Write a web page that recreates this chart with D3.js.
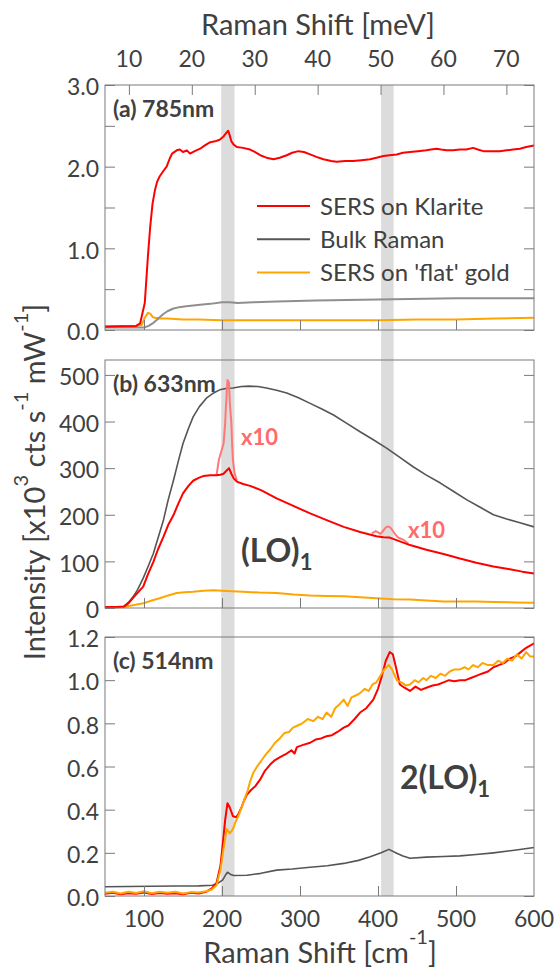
<!DOCTYPE html>
<html>
<head>
<meta charset="utf-8">
<script src="https://cdn.jsdelivr.net/npm/d3@7"></script>
<style>
  body { margin: 0; background: #fff; }
  text { font-family: Lato, "Open Sans", sans-serif; fill: #404040; }
</style>
</head>
<body>
<div id="chart"></div>
<script>
// --- data, x in cm-1 ---
var xTicks = [100, 200, 300, 400, 500, 600],
    meVTicks = [10, 20, 30, 40, 50, 60, 70],
    bands = [[199, 216], [404, 420]];

// (a) 785nm
var redA = [[50,0.04],[70,0.045],[90,0.05],[95,0.08],[101,0.33],[105,0.9],[108,1.27],[111,1.55],[114,1.71],[117,1.82],[120,1.88],[125,1.95],[129,2.0],[133,2.1],[136,2.16],[142,2.2],[146,2.21],[150,2.18],[155,2.2],[159,2.16],[165,2.19],[172,2.22],[178,2.26],[185,2.3],[191,2.31],[197,2.33],[202,2.37],[206,2.42],[208,2.44],[210,2.38],[212,2.31],[215,2.27],[219,2.24],[227,2.23],[236,2.21],[242,2.18],[249,2.14],[257,2.11],[266,2.09],[274,2.11],[283,2.14],[290,2.17],[298,2.19],[305,2.18],[313,2.15],[321,2.12],[330,2.09],[340,2.07],[347,2.06],[358,2.07],[368,2.07],[379,2.08],[390,2.09],[398,2.11],[407,2.13],[415,2.14],[424,2.15],[432,2.17],[441,2.18],[451,2.19],[462,2.2],[468,2.21],[475,2.22],[481,2.21],[488,2.2],[496,2.2],[505,2.21],[513,2.21],[522,2.23],[528,2.21],[535,2.19],[545,2.19],[556,2.19],[565,2.2],[573,2.21],[582,2.22],[590,2.24],[600,2.26]];
var bulkA = [[50,0.03],[80,0.03],[100,0.03],[106,0.05],[111,0.08],[117,0.13],[124,0.19],[130,0.23],[137,0.26],[145,0.28],[154,0.29],[163,0.3],[172,0.31],[185,0.32],[200,0.34],[210,0.34],[220,0.33],[240,0.34],[270,0.35],[320,0.36],[380,0.37],[440,0.38],[500,0.39],[560,0.39],[600,0.39]];
var flatA = [[50,0.05],[70,0.05],[90,0.05],[97,0.06],[101,0.15],[105,0.21],[108,0.2],[111,0.16],[114,0.15],[120,0.14],[130,0.14],[150,0.13],[170,0.13],[200,0.12],[230,0.12],[260,0.12],[300,0.12],[350,0.12],[400,0.12],[450,0.13],[500,0.13],[550,0.14],[600,0.15]];

// (b) 633nm
var redB = [[50,2],[65,2],[74,3],[80,10],[86,22],[92,33],[99,46],[105,72],[112,99],[118,126],[125,153],[131,178],[138,200],[144,224],[150,246],[157,262],[163,273],[170,279],[176,283],[185,285],[193,285],[198,286],[202,288],[206,295],[209,300],[212,288],[215,278],[219,271],[227,266],[236,262],[250,253],[270,235],[290,220],[313,203],[335,188],[356,174],[377,163],[398,154],[407,152],[415,151],[428,143],[441,135],[462,125],[484,116],[505,106],[526,97],[548,89],[569,83],[585,78],[600,74]];
var pink1 = [[193,285],[196,318],[199,335],[202,353],[204,395],[205,430],[207,489],[209,483],[210,440],[212,397],[213,350],[214,318],[216,290],[219,273]];
var pink2 = [[392,160],[395,163],[397,165],[400,162],[403,159],[406,164],[409,171],[412,175],[415,174],[418,168],[420,163],[423,156],[426,151],[430,148],[433,146],[439,138]];
var bulkB = [[50,2],[65,2],[74,3],[80,12],[86,24],[92,40],[99,64],[105,88],[112,117],[118,150],[125,189],[131,232],[138,275],[144,315],[150,353],[157,385],[163,410],[171,432],[180,450],[188,460],[197,468],[205,471],[214,472],[225,475],[235,476],[246,475],[257,472],[270,467],[283,461],[298,451],[313,439],[328,427],[343,414],[360,396],[377,378],[394,361],[411,343],[428,323],[445,303],[462,285],[480,268],[497,250],[514,232],[531,216],[548,200],[565,191],[582,183],[600,174]];
var flatB = [[50,1],[65,1],[74,2],[86,6],[99,10],[110,16],[120,21],[131,27],[142,32],[152,34],[163,35],[176,37],[189,38],[200,37],[213,36],[227,35],[248,33],[270,32],[292,29],[313,27],[335,26],[356,25],[377,23],[398,21],[420,19],[441,18],[462,16],[484,14],[505,14],[526,14],[548,13],[575,12],[600,11]];

// (c) 514nm
var redC = [[50,0.01],[60,0.015],[70,0.008],[80,0.013],[90,0.01],[100,0.016],[110,0.009],[120,0.014],[130,0.01],[140,0.013],[150,0.008],[160,0.015],[170,0.012],[180,0.02],[187,0.035],[193,0.06],[198,0.14],[201,0.24],[204,0.35],[207,0.43],[210,0.41],[214,0.37],[218,0.365],[221,0.38],[225,0.41],[228,0.44],[232,0.47],[237,0.49],[243,0.51],[249,0.54],[255,0.58],[262,0.61],[268,0.63],[275,0.645],[283,0.66],[289,0.675],[293,0.66],[296,0.69],[304,0.7],[313,0.71],[320,0.725],[327,0.73],[334,0.74],[341,0.745],[348,0.76],[356,0.78],[362,0.79],[370,0.82],[377,0.85],[385,0.87],[394,0.91],[400,0.96],[405,1.02],[410,1.09],[415,1.13],[419,1.12],[423,1.06],[428,0.98],[434,0.965],[441,0.95],[448,0.97],[455,0.955],[462,0.965],[470,0.975],[477,0.98],[484,0.99],[491,1.0],[498,0.995],[505,1.0],[512,1.0],[519,1.01],[526,1.02],[533,1.03],[541,1.04],[548,1.06],[555,1.07],[562,1.08],[569,1.1],[576,1.11],[583,1.13],[590,1.15],[595,1.16],[600,1.17]];
var flatC = [[50,0.015],[60,0.02],[70,0.012],[80,0.02],[90,0.014],[100,0.022],[110,0.013],[120,0.02],[130,0.015],[140,0.02],[150,0.012],[160,0.018],[170,0.016],[180,0.022],[187,0.03],[193,0.05],[198,0.12],[202,0.22],[206,0.31],[210,0.29],[214,0.31],[217,0.34],[222,0.38],[227,0.43],[233,0.49],[236,0.53],[240,0.57],[245,0.6],[251,0.63],[257,0.66],[262,0.68],[268,0.71],[274,0.73],[280,0.755],[286,0.76],[291,0.78],[297,0.79],[303,0.8],[310,0.82],[317,0.81],[323,0.83],[329,0.82],[334,0.85],[340,0.83],[345,0.87],[351,0.89],[356,0.91],[361,0.88],[366,0.92],[372,0.93],[377,0.94],[383,0.96],[388,0.95],[393,0.98],[398,0.99],[403,1.02],[408,1.05],[414,1.07],[418,1.05],[424,1.0],[430,0.99],[436,0.975],[441,0.98],[447,1.0],[452,0.99],[458,1.01],[462,1.0],[468,1.02],[474,1.01],[480,1.03],[486,1.02],[492,1.04],[498,1.05],[505,1.05],[511,1.06],[516,1.05],[522,1.07],[528,1.06],[534,1.08],[541,1.07],[548,1.07],[554,1.09],[560,1.08],[566,1.1],[572,1.09],[578,1.12],[584,1.1],[590,1.13],[595,1.11],[600,1.11]];
var bulkC = [[50,0.043],[80,0.044],[110,0.045],[140,0.046],[170,0.047],[188,0.05],[195,0.06],[201,0.075],[205,0.1],[207,0.11],[211,0.1],[215,0.095],[232,0.096],[250,0.105],[270,0.12],[290,0.125],[313,0.133],[335,0.14],[356,0.151],[375,0.165],[390,0.182],[404,0.2],[414,0.216],[424,0.198],[432,0.185],[441,0.175],[462,0.18],[484,0.183],[505,0.186],[526,0.192],[548,0.2],[575,0.212],[600,0.225]];

var width = 554, height = 969;
var x = d3.scaleLinear().domain([50, 600]).range([105, 534]);

var panels = [
  {top: 85, bottom: 330, max: 3.0, ticks: d3.range(0, 3.01, 0.5), labels: [0, 1, 2, 3], fmt: d3.format(".1f"), name: "(a) 785nm",
   series: [{d: flatA, c: "#ffa500", w: 2}, {d: bulkA, c: "#8f8f8f", w: 2}, {d: redA, c: "#ff0000", w: 2}]},
  {top: 360, bottom: 608, max: 532, ticks: d3.range(0, 501, 100), labels: d3.range(0, 501, 100), fmt: d3.format("d"), name: "(b) 633nm",
   series: [{d: flatB, c: "#ffa500", w: 2}, {d: bulkB, c: "#555555", w: 1.6}, {d: pink1, c: "#ff7878", w: 2}, {d: pink2, c: "#ff7878", w: 2}, {d: redB, c: "#ff0000", w: 2}]},
  {top: 637, bottom: 896, max: 1.2, ticks: d3.range(0, 1.21, 0.2), labels: d3.range(0, 1.21, 0.2), fmt: d3.format(".1f"), name: "(c) 514nm",
   series: [{d: bulkC, c: "#555555", w: 1.6}, {d: redC, c: "#ff0000", w: 2}, {d: flatC, c: "#ffa500", w: 2}]}
];

var svg = d3.select("#chart").append("svg")
  .attr("width", width).attr("height", height);

// grey bands behind everything
svg.selectAll("rect.band").data(bands).enter().append("rect")
  .attr("class", "band")
  .attr("x", function(d) { return x(d[0]); })
  .attr("width", function(d) { return x(d[1]) - x(d[0]); })
  .attr("y", 85).attr("height", 896 - 85)
  .attr("fill", "#dcdcdc");

var frameColor = "#7a7a7a";

panels.forEach(function(p) {
  var y = d3.scaleLinear().domain([0, p.max]).range([p.bottom, p.top]);
  var g = svg.append("g");

  var line = d3.line().x(function(d) { return x(d[0]); }).y(function(d) { return y(d[1]); });
  p.series.forEach(function(s) {
    g.append("path").datum(s.d).attr("d", line)
      .attr("fill", "none").attr("stroke", s.c).attr("stroke-width", s.w)
      .attr("stroke-linejoin", "round");
  });

  // frame
  g.append("rect").attr("x", 105).attr("y", p.top).attr("width", 534 - 105).attr("height", p.bottom - p.top)
    .attr("fill", "none").attr("stroke", frameColor).attr("stroke-width", 1);

  // left axis
  var left = g.append("g").attr("transform", "translate(105,0)")
    .call(d3.axisLeft(y).tickValues(p.ticks).tickSize(-10).tickFormat(""));
  left.select(".domain").remove();
  left.selectAll("line").attr("stroke", frameColor);
  g.selectAll("text.yl").data(p.labels).enter().append("text")
    .attr("x", 99).attr("y", function(d) { return y(d) + 2; })
    .attr("dy", "0.36em").attr("text-anchor", "end")
    .style("font-size", "23px")
    .text(p.fmt);

  // right axis
  var right = g.append("g").attr("transform", "translate(534,0)")
    .call(d3.axisRight(y).tickValues(p.ticks).tickSize(-10).tickFormat(""));
  right.select(".domain").remove();
  right.selectAll("line").attr("stroke", frameColor);

  // bottom ticks
  var bot = g.append("g").attr("transform", "translate(0," + p.bottom + ")")
    .call(d3.axisBottom(x).tickValues(xTicks.slice(0, 5)).tickSize(-10).tickFormat(""));
  bot.select(".domain").remove();
  bot.selectAll("line").attr("stroke", frameColor);

  g.append("text").attr("x", 113).attr("y", p.top + 32)
    .style("font-size", "23px").style("font-weight", "bold")
    .text(p.name);
});

// top meV axis
var meV = d3.scaleLinear().domain([50 / 8.0655, 600 / 8.0655]).range([105, 534]);
var topAx = svg.append("g").attr("transform", "translate(0,85)")
  .call(d3.axisTop(meV).tickValues(meVTicks).tickSize(-10).tickFormat(""));
topAx.select(".domain").remove();
topAx.selectAll("line").attr("stroke", frameColor);
svg.selectAll("text.ml").data(meVTicks).enter().append("text")
  .attr("x", function(d) { return meV(d); }).attr("y", 67)
  .attr("text-anchor", "middle").style("font-size", "23px")
  .text(function(d) { return d; });

// bottom tick labels
svg.selectAll("text.xl").data(xTicks).enter().append("text")
  .attr("x", function(d) { return x(d); }).attr("y", 927)
  .attr("text-anchor", "middle").style("font-size", "23px")
  .text(function(d) { return d; });

// axis titles
svg.append("text").attr("x", 318).attr("y", 35).attr("text-anchor", "middle")
  .style("font-size", "29px").text("Raman Shift [meV]");

var bt = svg.append("text").attr("x", 320).attr("y", 963).attr("text-anchor", "middle")
  .style("font-size", "29px");
bt.append("tspan").text("Raman Shift [cm");
bt.append("tspan").attr("dy", -19).style("font-size", "20px").text("-1");
bt.append("tspan").attr("dy", 19).text("]");

var yt = svg.append("text").attr("transform", "translate(45,482) rotate(-90)")
  .attr("text-anchor", "middle").style("font-size", "29px");
yt.append("tspan").text("Intensity [x10");
yt.append("tspan").attr("dy", -17).style("font-size", "20px").text("3");
yt.append("tspan").attr("dy", 17).text(" cts s");
yt.append("tspan").attr("dy", -17).style("font-size", "20px").text("-1");
yt.append("tspan").attr("dy", 17).text(" mW");
yt.append("tspan").attr("dy", -17).style("font-size", "20px").text("-1");
yt.append("tspan").attr("dy", 17).text("]");

// legend
var legend = [{t: "SERS on Klarite", c: "#ff0000"}, {t: "Bulk Raman", c: "#555555"}, {t: "SERS on 'flat' gold", c: "#ffa500"}];
var lg = svg.selectAll("g.lg").data(legend).enter().append("g")
  .attr("transform", function(d, i) { return "translate(257," + (206 + i * 33.3) + ")"; });
lg.append("line").attr("x1", 0).attr("x2", 53).attr("stroke", function(d) { return d.c; }).attr("stroke-width", 2);
lg.append("text").attr("x", 63).attr("dy", "0.36em").style("font-size", "24px").text(function(d) { return d.t; });

// annotations
svg.append("text").attr("x", 241).attr("y", 445).style("font-size", "22px").style("font-weight", "bold")
  .style("fill", "#ff6b6b").text("x10");
svg.append("text").attr("x", 408).attr("y", 538).style("font-size", "22px").style("font-weight", "bold")
  .style("fill", "#ff6b6b").text("x10");

var lo = svg.append("text").attr("x", 241).attr("y", 562).style("font-size", "32px").style("font-weight", "bold");
lo.append("tspan").text("(LO)");
lo.append("tspan").attr("dy", 8).style("font-size", "22px").text("1");

var lo2 = svg.append("text").attr("x", 400).attr("y", 789).style("font-size", "32px").style("font-weight", "bold");
lo2.append("tspan").text("2(LO)");
lo2.append("tspan").attr("dy", 8).style("font-size", "22px").text("1");
</script>
</body>
</html>
